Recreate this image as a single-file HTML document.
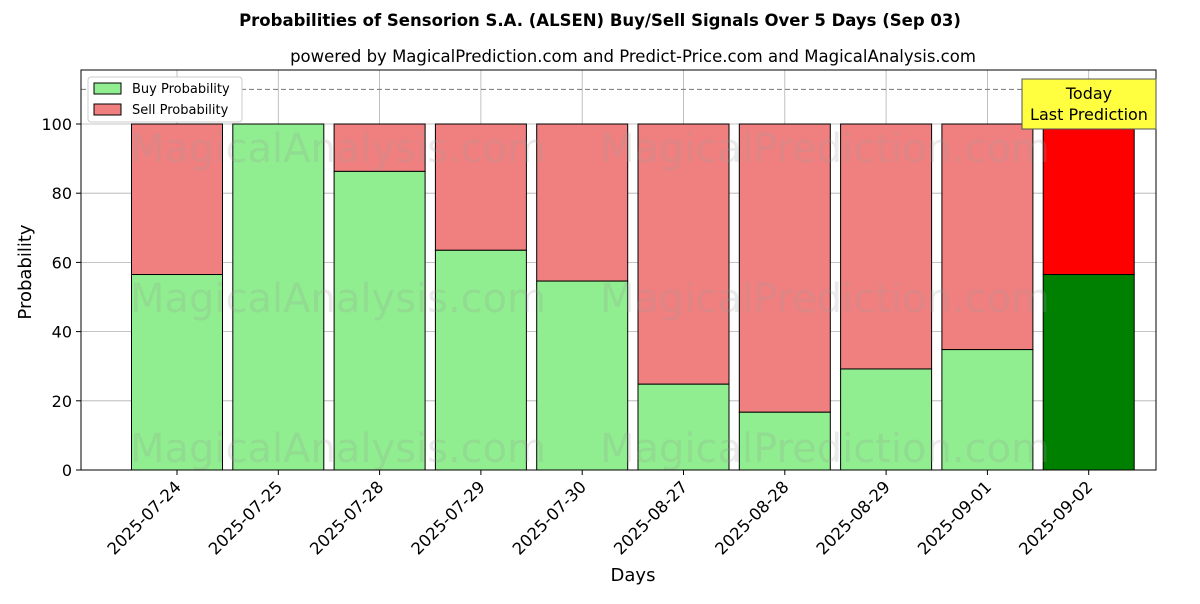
<!DOCTYPE html>
<html><head><meta charset="utf-8"><style>
body{margin:0;background:#fff;font-family:"DejaVu Sans","Liberation Sans",sans-serif}
</style></head><body>
<svg width="1200" height="600" xmlns="http://www.w3.org/2000/svg" font-family="DejaVu Sans, Liberation Sans, sans-serif">
<rect width="1200" height="600" fill="#fff"/>
<text x="600" y="26" text-anchor="middle" font-size="16.5" font-weight="bold">Probabilities of Sensorion S.A. (ALSEN) Buy/Sell Signals Over 5 Days (Sep 03)</text>
<text x="633" y="62" text-anchor="middle" font-size="16.5">powered by MagicalPrediction.com and Predict-Price.com and MagicalAnalysis.com</text>
<g id="grid"></g>
<g id="bars"></g>
<g id="wm" fill="#999" opacity="0.2" font-size="40">
<text x="130" y="162">MagicalAnalysis.com</text>
<text x="600" y="162">MagicalPrediction.com</text>
<text x="130" y="312">MagicalAnalysis.com</text>
<text x="600" y="312">MagicalPrediction.com</text>
<text x="130" y="462">MagicalAnalysis.com</text>
<text x="600" y="462">MagicalPrediction.com</text>
</g>
<line x1="81" x2="1156" y1="89.4" y2="89.4" stroke="#777" stroke-dasharray="5,3"/>
<rect x="81" y="70" width="1075" height="400" fill="none" stroke="#000"/>
<g id="axes"></g>
<text x="633" y="581" text-anchor="middle" font-size="18">Days</text>
<text transform="translate(31,272) rotate(-90)" text-anchor="middle" font-size="18">Probability</text>
<g>
<rect x="88" y="77" width="154" height="45" fill="#fff" stroke="#ccc" rx="3"/>
<rect x="94" y="83" width="27" height="11" fill="#90ee90" stroke="#000"/>
<text x="132" y="93" font-size="13">Buy Probability</text>
<rect x="94" y="104" width="27" height="11" fill="#f08080" stroke="#000"/>
<text x="132" y="114" font-size="13">Sell Probability</text>
</g>
<g>
<rect x="1022" y="79" width="134" height="50" fill="#ffff40" stroke="#555"/>
<text x="1089" y="99" text-anchor="middle" font-size="16">Today</text>
<text x="1089" y="120" text-anchor="middle" font-size="16">Last Prediction</text>
</g>
</svg>
<script>
const categories=["2025-07-24","2025-07-25","2025-07-28","2025-07-29","2025-07-30","2025-08-27","2025-08-28","2025-08-29","2025-09-01","2025-09-02"];
const buyValues=[56.5,100,86.3,63.5,54.6,24.8,16.7,29.2,34.8,56.5];
const yTicks=[0,20,40,60,80,100];
const NS="http://www.w3.org/2000/svg";
const X=i=>177+i*101.3, Y=v=>470-v*3.46, BW=91;
function mk(t,a,p){const e=document.createElementNS(NS,t);for(const k in a)e.setAttribute(k,a[k]);p.appendChild(e);return e;}
const grid=document.getElementById('grid'),bars=document.getElementById('bars'),axes=document.getElementById('axes');
yTicks.forEach(v=>{
 const l=mk('line',{x1:81,x2:1156,y1:Y(v),y2:Y(v),stroke:'#b0b0b0','stroke-width':0.8},grid);
 
 
 const tk=mk('line',{x1:76,x2:81,y1:Y(v),y2:Y(v),stroke:'#000'},axes);
 
 
 const t=mk('text',{x:72,y:Y(v)+6,'text-anchor':'end','font-size':16},axes);
 t.textContent=v;
 
 
});
categories.forEach((c,i)=>{
 const x=X(i);
 const g=mk('line',{x1:x,x2:x,y1:70,y2:470,stroke:'#b0b0b0','stroke-width':0.8},grid);
 
 
 const last=i===categories.length-1;
 const b=buyValues[i];
 const s=mk('rect',{x:x-BW/2,y:Y(100),width:BW,height:Y(b)-Y(100),fill:last?'#ff0000':'#f08080',stroke:'#000'},bars);
 
 
 const r=mk('rect',{x:x-BW/2,y:Y(b),width:BW,height:Y(0)-Y(b),fill:last?'#008000':'#90ee90',stroke:'#000'},bars);
 
 
 const tk=mk('line',{x1:x,x2:x,y1:470,y2:475,stroke:'#000'},axes);
 
 
 const t=mk('text',{x:x+5,y:488,'text-anchor':'end','font-size':16.5,transform:`rotate(-45 ${x+5} 488)`},axes);
 t.textContent=c;
 
 
});
</script>
</body></html>
